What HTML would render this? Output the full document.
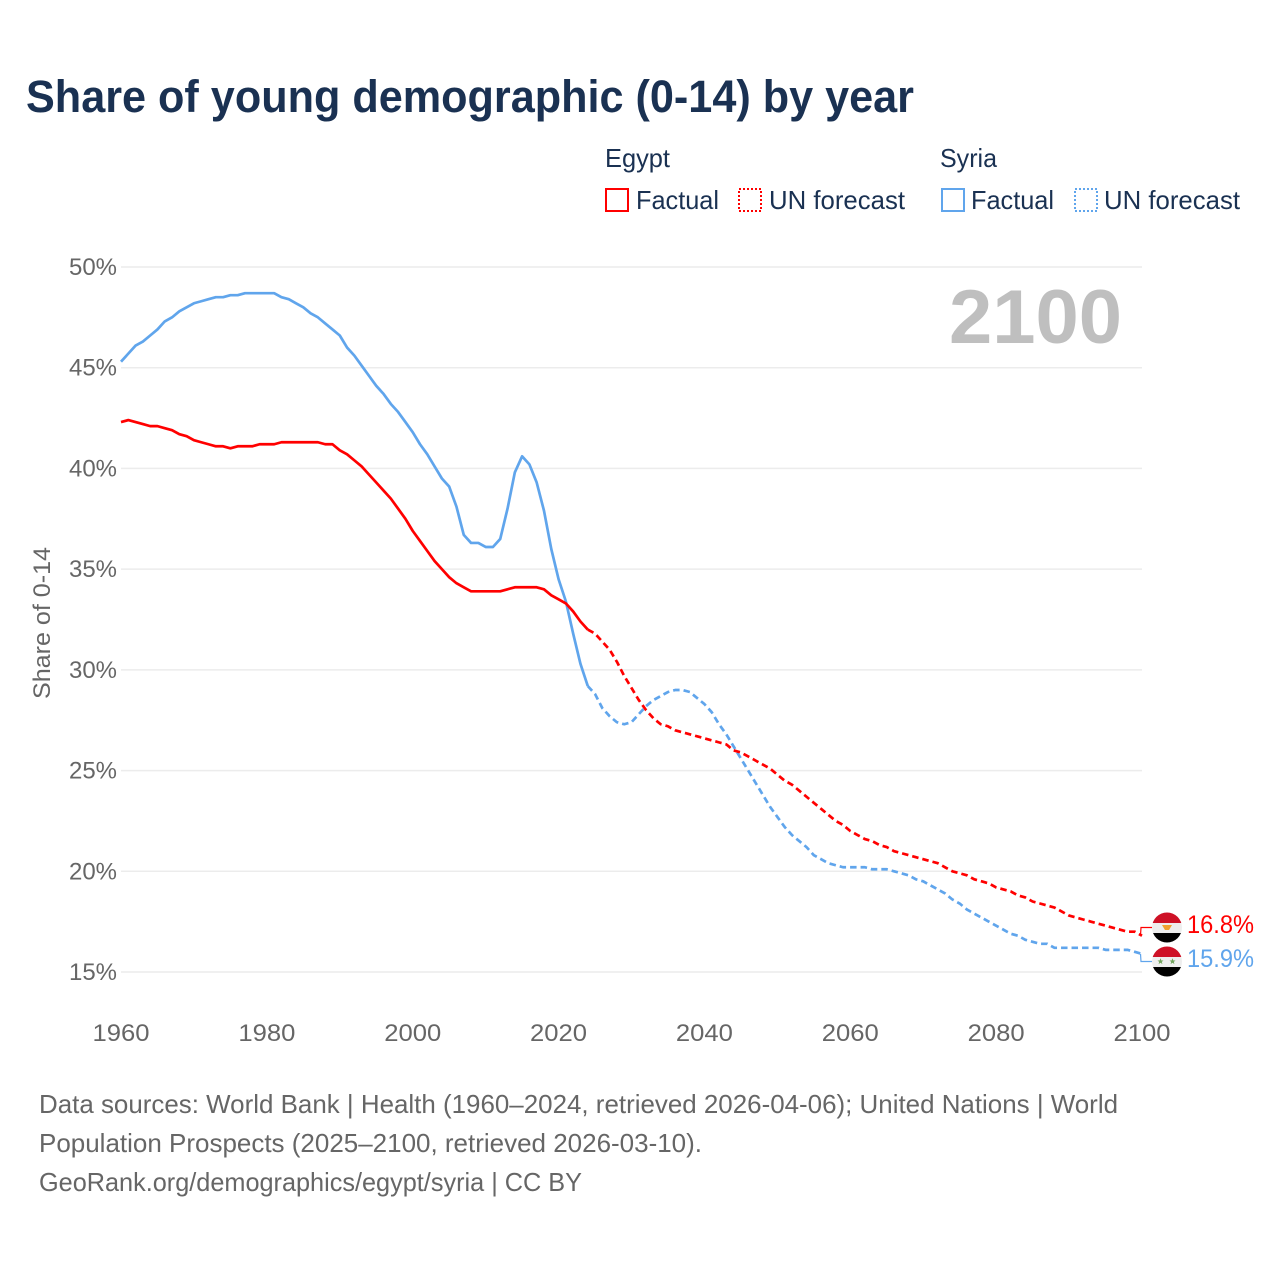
<!DOCTYPE html>
<html lang="en">
<head>
<meta charset="utf-8">
<title>Share of young demographic (0-14) by year</title>
<style>
html,body{margin:0;padding:0;background:#fff;}
svg{display:block;font-family:"Liberation Sans",sans-serif;}
</style>
</head>
<body>
<svg id="chart" xmlns="http://www.w3.org/2000/svg" width="1280" height="1280" viewBox="0 0 1280 1280">
  <rect x="0" y="0" width="1280" height="1280" fill="#ffffff"/>
  <text x="26" y="112" font-size="45" font-weight="700" fill="#1a3152" textLength="888" lengthAdjust="spacingAndGlyphs">Share of young demographic (0-14) by year</text>

  <g font-size="26" fill="#1a3152">
    <text x="605" y="167" textLength="65" lengthAdjust="spacingAndGlyphs">Egypt</text>
    <text x="940" y="167" textLength="57" lengthAdjust="spacingAndGlyphs">Syria</text>
    <rect x="606" y="189" width="22" height="22" fill="none" stroke="#ff0000" stroke-width="2"/>
    <text x="636" y="209" textLength="83" lengthAdjust="spacingAndGlyphs">Factual</text>
    <rect x="739" y="189" width="22" height="22" fill="none" stroke="#ff0000" stroke-width="2" stroke-dasharray="2 2"/>
    <text x="769" y="209" textLength="136" lengthAdjust="spacingAndGlyphs">UN forecast</text>
    <rect x="942" y="189" width="22" height="22" fill="none" stroke="#60a5ec" stroke-width="2"/>
    <text x="971" y="209" textLength="83" lengthAdjust="spacingAndGlyphs">Factual</text>
    <rect x="1075" y="189" width="22" height="22" fill="none" stroke="#60a5ec" stroke-width="2" stroke-dasharray="2 2"/>
    <text x="1104" y="209" textLength="136" lengthAdjust="spacingAndGlyphs">UN forecast</text>
  </g>

  <g id="grid"></g>
  <g id="yticks" font-size="24" fill="#666666"></g>
  <g id="xticks" font-size="24" fill="#666666"></g>
  <text transform="translate(50,699) rotate(-90)" font-size="24" fill="#666666" textLength="152" lengthAdjust="spacingAndGlyphs">Share of 0-14</text>
  <text x="949" y="343" font-size="76" font-weight="700" fill="#bfbfbf" textLength="173" lengthAdjust="spacingAndGlyphs">2100</text>
  <g id="series"></g>

  <g>
    <clipPath id="clip-eg"><circle cx="1167" cy="927.5" r="15"/></clipPath>
    <clipPath id="clip-sy"><circle cx="1167" cy="961.5" r="15"/></clipPath>
    <g clip-path="url(#clip-eg)">
      <rect x="1152" y="912" width="30" height="11" fill="#ce1126"/>
      <rect x="1152" y="923" width="30" height="10" fill="#eeeeee"/>
      <rect x="1152" y="933" width="30" height="11" fill="#000000"/>
      <path d="M1162 925 L1172 925 L1169 930 L1165 930 Z" fill="#f0a030"/>
    </g>
    <g clip-path="url(#clip-sy)">
      <rect x="1152" y="946" width="30" height="11" fill="#ce1126"/>
      <rect x="1152" y="957" width="30" height="10" fill="#eeeeee"/>
      <rect x="1152" y="967" width="30" height="11" fill="#000000"/>
      <path transform="translate(1160.5,961.5)" d="M0 -3.2L0.9 -1L3 -1L1.3 0.4L1.9 2.6L0 1.3L-1.9 2.6L-1.3 0.4L-3 -1L-0.9 -1Z" fill="#6fa35a"/>
      <path transform="translate(1172.5,961.5)" d="M0 -3.2L0.9 -1L3 -1L1.3 0.4L1.9 2.6L0 1.3L-1.9 2.6L-1.3 0.4L-3 -1L-0.9 -1Z" fill="#6fa35a"/>
    </g>
    <text x="1187" y="933" font-size="25" fill="#ff0000" textLength="67" lengthAdjust="spacingAndGlyphs">16.8%</text>
    <text x="1187" y="967" font-size="25" fill="#60a5ec" textLength="67" lengthAdjust="spacingAndGlyphs">15.9%</text>
  </g>

  <g font-size="26" fill="#666666">
    <text x="39" y="1113" textLength="1079" lengthAdjust="spacingAndGlyphs">Data sources: World Bank | Health (1960–2024, retrieved 2026-04-06); United Nations | World</text>
    <text x="39" y="1152" textLength="663" lengthAdjust="spacingAndGlyphs">Population Prospects (2025–2100, retrieved 2026-03-10).</text>
    <text x="39" y="1191" textLength="543" lengthAdjust="spacingAndGlyphs">GeoRank.org/demographics/egypt/syria | CC BY</text>
  </g>
</svg>
<script>
// 1960-2024
const egyptFactual = [
  42.3,42.4,42.3,42.2,42.1,42.1,42.0,41.9,41.7,41.6,
  41.4,41.3,41.2,41.1,41.1,41.0,41.1,41.1,41.1,41.2,
  41.2,41.2,41.3,41.3,41.3,41.3,41.3,41.3,41.2,41.2,
  40.9,40.7,40.4,40.1,39.7,39.3,38.9,38.5,38.0,37.5,
  36.9,36.4,35.9,35.4,35.0,34.6,34.3,34.1,33.9,33.9,
  33.9,33.9,33.9,34.0,34.1,34.1,34.1,34.1,34.0,33.7,
  33.5,33.3,32.9,32.4,32.0
];
// 2025-2100
const egyptForecast = [
  31.8,31.4,31.0,30.4,29.7,
  29.1,28.5,28.0,27.6,27.3,27.2,27.0,26.9,26.8,26.7,
  26.6,26.5,26.4,26.3,26.0,25.9,25.7,25.5,25.3,25.1,
  24.8,24.5,24.3,24.0,23.7,23.4,23.1,22.8,22.5,22.3,
  22.0,21.8,21.6,21.5,21.3,21.2,21.0,20.9,20.8,20.7,
  20.6,20.5,20.4,20.2,20.0,19.9,19.8,19.6,19.5,19.4,
  19.2,19.1,19.0,18.8,18.7,18.5,18.4,18.3,18.2,18.0,
  17.8,17.7,17.6,17.5,17.4,17.3,17.2,17.1,17.0,17.0,
  16.8
];
// 1960-2024
const syriaFactual = [
  45.3,45.7,46.1,46.3,46.6,46.9,47.3,47.5,47.8,48.0,
  48.2,48.3,48.4,48.5,48.5,48.6,48.6,48.7,48.7,48.7,
  48.7,48.7,48.5,48.4,48.2,48.0,47.7,47.5,47.2,46.9,
  46.6,46.0,45.6,45.1,44.6,44.1,43.7,43.2,42.8,42.3,
  41.8,41.2,40.7,40.1,39.5,39.1,38.1,36.7,36.3,36.3,
  36.1,36.1,36.5,38.0,39.8,40.6,40.2,39.3,37.9,36.0,
  34.5,33.4,31.8,30.3,29.2
];
// 2025-2100
const syriaForecast = [
  28.8,28.1,27.7,27.4,27.3,
  27.4,27.8,28.2,28.5,28.7,28.9,29.0,29.0,28.9,28.6,
  28.3,27.9,27.3,26.8,26.2,25.6,25.0,24.4,23.8,23.2,
  22.7,22.2,21.8,21.5,21.2,20.8,20.6,20.4,20.3,20.2,
  20.2,20.2,20.2,20.1,20.1,20.1,20.0,19.9,19.8,19.6,
  19.5,19.3,19.1,18.9,18.6,18.4,18.1,17.9,17.7,17.5,
  17.3,17.1,16.9,16.8,16.6,16.5,16.4,16.4,16.2,16.2,
  16.2,16.2,16.2,16.2,16.2,16.1,16.1,16.1,16.1,16.0,
  15.9
];
const yTickValues = [15,20,25,30,35,40,45,50];
const yTickLabels = ["15%","20%","25%","30%","35%","40%","45%","50%"];
const xTickValues = [1960,1980,2000,2020,2040,2060,2080,2100];
const xTickLabels = ["1960","1980","2000","2020","2040","2060","2080","2100"];

const NS = 'http://www.w3.org/2000/svg';
const startYear = 1960;
const forecastStart = 2025;
function xScale(year){ return 121 + (year - 1960) * (1021 / 140); }
function yScale(value){ return 972 - (value - 15) * (705 / 35); }
function make(tag, attrs, parent){
  const el = document.createElementNS(NS, tag);
  for (const k in attrs) el.setAttribute(k, attrs[k]);
  parent.appendChild(el);
  return el;
}
const grid = document.getElementById('grid');
const yticks = document.getElementById('yticks');
const xticks = document.getElementById('xticks');
const series = document.getElementById('series');

yTickValues.forEach(function(v, i){
  const line = make('line', {x1:121, x2:1142, y1:yScale(v), y2:yScale(v), stroke:'#ececec', 'stroke-width':1.5}, grid);
  
  
  const t = make('text', {x:69, y:yScale(v)+8, textLength:48, lengthAdjust:'spacingAndGlyphs'}, yticks);
  
  
  t.textContent = yTickLabels[i];
});
xTickValues.forEach(function(v, i){
  const t = make('text', {x:xScale(v)-28.5, y:1041, textLength:57, lengthAdjust:'spacingAndGlyphs'}, xticks);
  
  
  t.textContent = xTickLabels[i];
});
function pathFrom(values, firstYear, prefix){
  let pts = prefix ? [prefix] : [];
  values.forEach(function(v, i){ pts.push([xScale(firstYear + i), yScale(v)]); });
  return 'M' + pts.map(function(p){ return p[0].toFixed(2) + ' ' + p[1].toFixed(2); }).join('L');
}
function lastPoint(values, firstYear){
  const i = values.length - 1;
  return [xScale(firstYear + i), yScale(values[i])];
}
const attrsBase = {fill:'none', 'stroke-width':2.7, 'stroke-linejoin':'round'};
function drawLine(d, color, dash){
  const a = Object.assign({d:d, stroke:color}, attrsBase);
  if (dash) a['stroke-dasharray'] = dash;
  return make('path', a, series);
}
const syF = drawLine(pathFrom(syriaFactual, startYear), '#60a5ec');


const egF = drawLine(pathFrom(egyptFactual, startYear), '#ff0000');


const syU = drawLine(pathFrom(syriaForecast, forecastStart, lastPoint(syriaFactual, startYear)), '#60a5ec', '6.5 4');


const egU = drawLine(pathFrom(egyptForecast, forecastStart, lastPoint(egyptFactual, startYear)), '#ff0000', '6.5 4');



function connector(value, flagY, color){
  const y = yScale(value);
  return make('path', {d:'M1140.5 ' + y.toFixed(1) + 'L1141 ' + flagY + 'L1152 ' + flagY, fill:'none', stroke:color, 'stroke-width':1.2}, series);
}
const c1 = connector(egyptForecast[egyptForecast.length-1], 927.5, '#ff0000');


const c2 = connector(syriaForecast[syriaForecast.length-1], 961.5, '#60a5ec');


</script>
</body>
</html>
